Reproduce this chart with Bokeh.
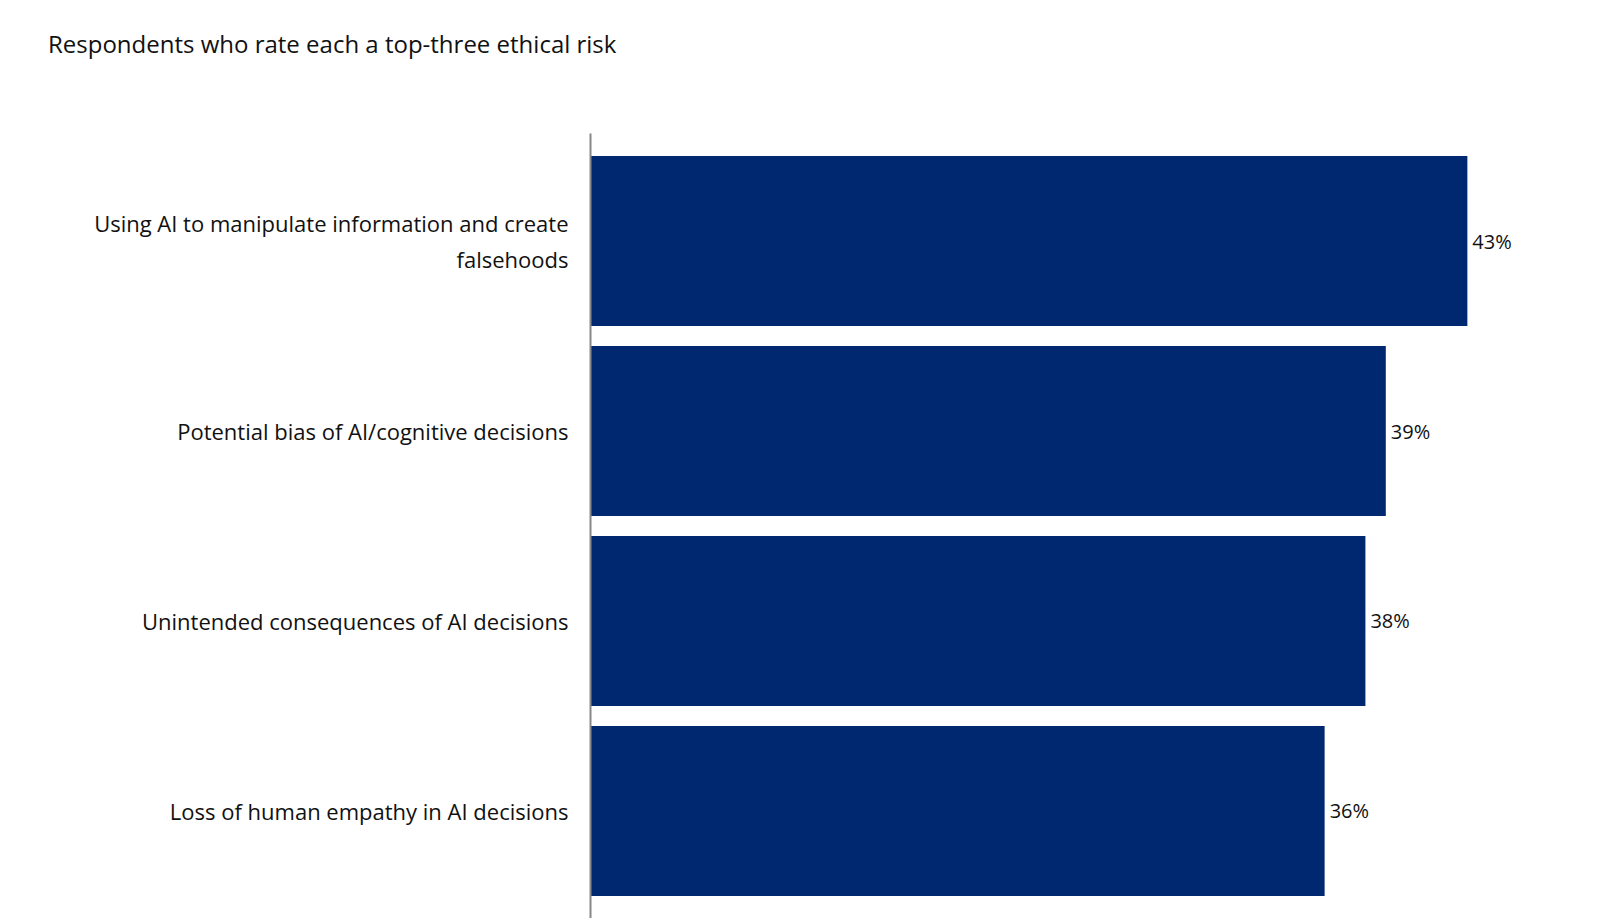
from bokeh.plotting import figure
from bokeh.models import FactorRange, Range1d, ColumnDataSource, LabelSet, Div
from bokeh.layouts import column
from bokeh.core.properties import value
from bokeh.embed import file_html
from bokeh.resources import INLINE

categories = ["Using AI to manipulate information and create\nfalsehoods",
              "Potential bias of AI/cognitive decisions",
              "Unintended consequences of AI decisions",
              "Loss of human empathy in AI decisions"]
values = [43, 39, 38, 36]
value_labels = ["43%", "39%", "38%", "36%"]
title_text = "Respondents who rate each a top-three ethical risk"

W = 1592
DH = 80
H = 828
factors = list(reversed(categories))
p = figure(width=W, height=H, output_backend="svg", toolbar_location=None,
           y_range=FactorRange(*factors, range_padding=0.033),
           x_range=Range1d(0, 45.36),
           min_border_left=590, min_border_right=77, min_border_top=43, min_border_bottom=0)
p.outline_line_color = None
p.grid.visible = False
p.xaxis.visible = False
p.yaxis.major_tick_line_color = None
p.yaxis.minor_tick_line_color = None
p.yaxis.major_tick_out = 0
p.yaxis.major_label_standoff = 22
p.yaxis.major_label_text_font = "Open Sans"
p.yaxis.major_label_text_font_size = "22px"
p.yaxis.major_label_text_color = "#111111"
p.yaxis.axis_line_color = "#888888"
p.yaxis.axis_line_width = 2

src = ColumnDataSource(dict(cat=categories, val=values, lab=value_labels))
p.hbar(y="cat", right="val", height=0.894, source=src, fill_color="#002870", line_color=None)

p.add_layout(LabelSet(x="val", y="cat", text="lab", source=src, x_offset=5,
                      text_baseline="middle", text_font=value("Open Sans"),
                      text_font_size="20px", text_color="#111111"))

title = Div(text=title_text, width=W, height=DH,
            styles={"font-family": "Open Sans", "font-size": "24px", "color": "#111111",
                    "padding-top": "22px", "padding-left": "43px", "box-sizing": "border-box"})

open("out.html", "w").write(file_html(column(title, p, spacing=0), INLINE))
